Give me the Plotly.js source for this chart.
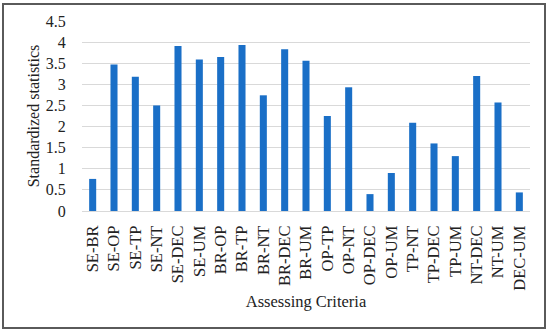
<!DOCTYPE html>
<html><head><meta charset="utf-8">
<script src="https://cdn.plot.ly/plotly-3.0.1.min.js"></script>
<style>
body{margin:0;padding:0;background:#fff;}
#chart{width:550px;height:333px;position:absolute;left:0;top:0;}
#frame{position:absolute;left:2px;top:3px;width:544px;height:326px;box-sizing:border-box;border:2px solid #5a5a5a;pointer-events:none;}
</style></head>
<body>
<div id="chart"></div>
<div id="frame"></div>
<script>
const categories = ["SE-BR","SE-OP","SE-TP","SE-NT","SE-DEC","SE-UM","BR-OP","BR-TP","BR-NT","BR-DEC","BR-UM","OP-TP","OP-NT","OP-DEC","OP-UM","TP-NT","TP-DEC","TP-UM","NT-DEC","NT-UM","DEC-UM"];
const values = [0.76,3.47,3.18,2.5,3.91,3.59,3.65,3.93,2.74,3.83,3.56,2.25,2.93,0.4,0.9,2.09,1.6,1.3,3.2,2.57,0.44];
const yTicks = [0,0.5,1,1.5,2,2.5,3,3.5,4,4.5];
const yTickText = ["0","0.5","1","1.5","2","2.5","3","3.5","4","4.5"];
const font = "'Liberation Serif', 'DejaVu Serif', serif";
Plotly.newPlot('chart', [{
  type:'bar', x:categories, y:values,
  marker:{color:'#1a6fc7'}, hoverinfo:'none'
}], {
  width:550, height:333,
  margin:{l:82,r:20,t:21,b:122},
  paper_bgcolor:'#fff', plot_bgcolor:'#fff',
  bargap:0.67,
  font:{family:font,size:16,color:'#222'},
  showlegend:false,
  xaxis:{
    type:'category', tickangle:-90, ticks:'outside', ticklen:7, tickcolor:'rgba(0,0,0,0)',
    showgrid:false, showline:false, zeroline:false,
    tickfont:{family:font,size:16.5,color:'#222'},
    title:{text:'Assessing Criteria', font:{family:font,size:16.5,color:'#222'}, standoff:5}
  },
  yaxis:{
    range:[0,4.5], tickvals:yTicks, ticktext:yTickText,
    ticks:'outside', ticklen:12, tickcolor:'rgba(0,0,0,0)',
    showgrid:true, gridcolor:'#d9d9d9', gridwidth:1,
    zeroline:true, zerolinecolor:'#d9d9d9', zerolinewidth:1, showline:false,
    tickfont:{family:font,size:16,color:'#222'},
    title:{text:'Standardized statistics', font:{family:font,size:16,color:'#222'}, standoff:2}
  }
}, {displayModeBar:false, staticPlot:true});
</script>
</body></html>
